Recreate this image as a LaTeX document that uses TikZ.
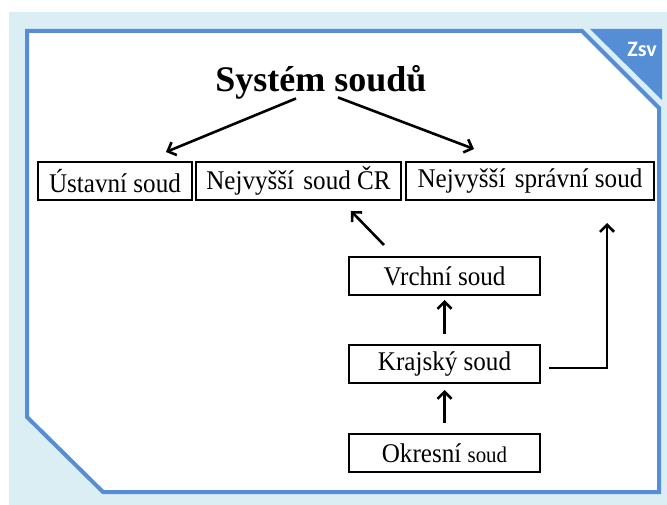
\documentclass[tikz,border=0pt]{standalone}
\usepackage{fontspec}
\setmainfont{Liberation Serif}
\newfontfamily\courtfont[FakeStretch=0.93]{Liberation Serif}
\newfontfamily\zsvfont{Carlito}
\usetikzlibrary{arrows.meta,calc}
\definecolor{panelblue}{HTML}{558ED5}
\definecolor{lightbg}{HTML}{DBEEF4}
\begin{document}
\begin{tikzpicture}[x=1pt,y=-1pt,
  court/.style={draw=black,line width=2pt,minimum height=38pt,inner sep=0pt,
    font=\courtfont\fontsize{27}{32}\selectfont},
  conn/.style={line width=2.6pt,line join=miter,-{Straight Barb[length=7pt,width=14pt]}},
]
\useasboundingbox (0,0) rectangle (667,505);
\fill[white] (0,0) rectangle (667,505);
\fill[lightbg] (9,12) rectangle (667,505);
\filldraw[fill=white,draw=panelblue,line width=4pt,line join=miter]
  (27,31) -- (582,31) -- (659,108) -- (659,492) -- (103,492) -- (27,417) -- cycle;
\fill[panelblue] (590,29) -- (662,29) -- (662,100) -- cycle;
\node[text=white,font=\zsvfont\bfseries\fontsize{22}{26}\selectfont] (zsv) at (642,49) {Zsv};

\node[font=\bfseries\fontsize{36}{40}\selectfont] (title) at (321,82) {Systém soudů};

\node[court,minimum width=154pt] (ustav) at (115,181) {Ústavní soud};
\node[court,minimum width=205pt] (nsud) at (298.5,181) {Nejvyšší\hspace{3pt} soud ČR};
\node[court,minimum width=248pt] (nss) at (530,181) {Nejvyšší\hspace{3pt} správní soud};
\node[court,minimum width=191pt] (vrchni) at (444.5,276) {Vrchní soud};
\node[court,minimum width=191pt] (kraj) at (444.5,364) {Krajský soud};
\node[court,minimum width=191pt] (okres) at (444.5,453) {Okresní {\fontsize{22.5}{26}\selectfont soud}};

\coordinate (tl) at ($(title.south)+(-25,-4)$);
\coordinate (tr) at ($(title.south)+(17,-5)$);
\draw[conn] (tl) -- ($(ustav.north east)+(-27,-9)$);
\draw[conn] (tr) -- ($(nss.north west)+(69,-12)$);
\draw[conn] ($(vrchni.north west)+(36,-11)$) -- ($(nsud.south east)+(-51,10)$);
\draw[conn] ($(kraj.north)+(0,-10)$) -- ($(vrchni.south)+(0,4)$);
\draw[conn] ($(okres.north)+(0,-10)$) -- ($(kraj.south)+(0,6)$);
\draw[conn] ($(kraj.east)+(8,4)$) -| ($(nss.south east)+(-48,22)$);
\end{tikzpicture}
\end{document}
